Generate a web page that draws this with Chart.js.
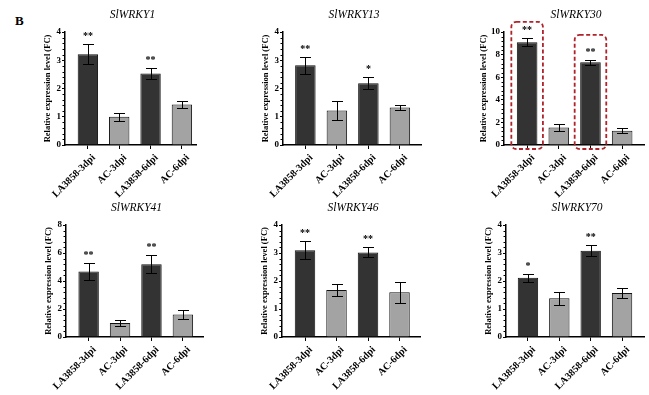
<!DOCTYPE html>
<html>
<head>
<meta charset="utf-8">
<script src="https://cdn.jsdelivr.net/npm/chart.js@4.4.0/dist/chart.umd.min.js"></script>
<style>
  html, body { margin: 0; padding: 0; background: #fff; }
  body { width: 649px; height: 395px; position: relative; overflow: hidden; }
  canvas.panel { position: absolute; }
  #panelLabel { position: absolute; left: 15px; top: 13px; font: bold 13px "Liberation Serif", serif; color: #000; }
</style>
</head>
<body>
<div id="panelLabel">B</div>
<script>
// Categories shared by every panel
const categories = ['LA3858-3dpi', 'AC-3dpi', 'LA3858-6dpi', 'AC-6dpi'];
const genes = ['SlWRKY1', 'SlWRKY13', 'SlWRKY30', 'SlWRKY41', 'SlWRKY46', 'SlWRKY70'];

// Mean relative expression (FC)
const wrky1Values  = [3.21, 1.00, 2.53, 1.43];
const wrky13Values = [2.82, 1.22, 2.19, 1.33];
const wrky30Values = [9.10, 1.54, 7.32, 1.26];
const wrky41Values = [4.68, 1.00, 5.20, 1.60];
const wrky46Values = [3.10, 1.68, 3.02, 1.60];
const wrky70Values = [2.12, 1.38, 3.08, 1.57];

// Error bar half-lengths
const wrky1Errors  = [0.35, 0.14, 0.20, 0.11];
const wrky13Errors = [0.29, 0.34, 0.20, 0.10];
const wrky30Errors = [0.35, 0.32, 0.20, 0.22];
const wrky41Errors = [0.58, 0.20, 0.65, 0.33];
const wrky46Errors = [0.32, 0.22, 0.18, 0.38];
const wrky70Errors = [0.14, 0.24, 0.20, 0.18];

// Significance marks
const wrky1Sig  = ['**', '', '**', ''];
const wrky13Sig = ['**', '', '*', ''];
const wrky30Sig = ['**', '', '**', ''];
const wrky41Sig = ['**', '', '**', ''];
const wrky46Sig = ['**', '', '**', ''];
const wrky70Sig = ['*', '', '**', ''];

// Highlighted bars in SlWRKY30 (top of the dashed box, FC units)
const wrky30Highlight = [10.9, null, 9.75, null];

// Y axis ranges and major tick steps
const yMaxValues = [4, 4, 10, 8, 4, 4];
const yStepValues = [1, 1, 2, 2, 1, 1];

const allValues = [wrky1Values, wrky13Values, wrky30Values, wrky41Values, wrky46Values, wrky70Values];
const allErrors = [wrky1Errors, wrky13Errors, wrky30Errors, wrky41Errors, wrky46Errors, wrky70Errors];
const allSig = [wrky1Sig, wrky13Sig, wrky30Sig, wrky41Sig, wrky46Sig, wrky70Sig];
const allHighlight = [null, null, wrky30Highlight, null, null, null];

// Page layout of each plot area (pixels on the page)
const layout = [
  { left: 65,  right: 196, top: 32,  bottom: 145, xMin: -0.73, xMax: 3.45, yw: 22 },
  { left: 283, right: 421, top: 32,  bottom: 145, xMin: -0.71, xMax: 3.67, yw: 22 },
  { left: 504, right: 644, top: 32,  bottom: 145, xMin: -0.73, xMax: 3.69, yw: 25 },
  { left: 66,  right: 203, top: 225, bottom: 337, xMin: -0.72, xMax: 3.64, yw: 22 },
  { left: 282, right: 420, top: 225, bottom: 337, xMin: -0.73, xMax: 3.65, yw: 22 },
  { left: 506, right: 644, top: 225, bottom: 337, xMin: -0.70, xMax: 3.70, yw: 22 }
];

const PAD_L = 4, PAD_T = 30, PAD_R = 6, PAD_B = 2, X_H = 58;
const serif = '"Liberation Serif", "Times New Roman", serif';

// Draws error bars, asterisks, minor ticks, highlight boxes and the italic gene title
function makeDeco(k) {
  return {
    id: 'deco' + k,
    afterDatasetsDraw(chart) {
      const { ctx, chartArea } = chart;
      const ys = chart.scales.y;
      const meta = chart.getDatasetMeta(0);
      ctx.save();
      ctx.strokeStyle = '#000';
      ctx.lineWidth = 1;

      // minor ticks on the y axis
      const minor = yStepValues[k] / 5;
      for (let i = 1; i * minor < yMaxValues[k]; i++) {
        if (i % 5 === 0) continue;
        const py = Math.round(ys.getPixelForValue(i * minor)) + 0.5;
        ctx.beginPath();
        ctx.moveTo(chartArea.left - 2.5, py);
        ctx.lineTo(chartArea.left, py);
        ctx.stroke();
      }

      meta.data.forEach((bar, j) => {
        const v = allValues[k][j], e = allErrors[k][j];
        const hi = Math.round(ys.getPixelForValue(v + e)) + 0.5;
        const lo = Math.round(ys.getPixelForValue(v - e)) + 0.5;
        const x = Math.round(bar.x) + 0.5;
        ctx.strokeStyle = '#000';
        ctx.lineWidth = 1;
        ctx.setLineDash([]);
        ctx.beginPath();
        ctx.moveTo(x, hi); ctx.lineTo(x, lo);
        ctx.moveTo(x - 5.5, hi); ctx.lineTo(x + 5.5, hi);
        ctx.moveTo(x - 5.5, lo); ctx.lineTo(x + 5.5, lo);
        ctx.stroke();

        if (allSig[k][j]) {
          ctx.fillStyle = '#000';
          ctx.font = 'bold 10px ' + serif;
          ctx.textAlign = 'center';
          ctx.textBaseline = 'middle';
          ctx.fillText(allSig[k][j], bar.x, hi - 8);
        }

        const hl = allHighlight[k];
        if (hl && hl[j] != null) {
          const x0 = bar.x - bar.width / 2 - 5.5;
          const x1 = bar.x + bar.width / 2 + 5.5;
          const y0 = ys.getPixelForValue(hl[j]);
          const y1 = chartArea.bottom + 4;
          ctx.strokeStyle = '#b1222b';
          ctx.lineWidth = 1.8;
          ctx.setLineDash([4, 2.5]);
          ctx.beginPath();
          ctx.roundRect(x0, y0, x1 - x0, y1 - y0, 5);
          ctx.stroke();
        }
      });
      ctx.restore();
    },
    afterDraw(chart) {
      const { ctx, chartArea } = chart;
      ctx.save();
      ctx.fillStyle = '#000';
      ctx.font = 'italic 11.5px ' + serif;
      ctx.textAlign = 'center';
      ctx.textBaseline = 'middle';
      ctx.fillText(genes[k], (chartArea.left + chartArea.right) / 2 + 2, chartArea.top - 17);
      ctx.restore();
    }
  };
}

function makePanel(k) {
  const p = layout[k];
  const cv = document.createElement('canvas');
  cv.className = 'panel';
  cv.width = PAD_L + p.yw + (p.right - p.left) + PAD_R;
  cv.height = PAD_T + (p.bottom - p.top) + X_H + PAD_B;
  cv.style.left = (p.left - p.yw - PAD_L) + 'px';
  cv.style.top = (p.top - PAD_T) + 'px';
  document.body.appendChild(cv);

  new Chart(cv, {
    type: 'bar',
    data: {
      datasets: [{
        data: allValues[k].map((v, j) => ({ x: j, y: v })),
        backgroundColor: allValues[k].map((v, j) => (j % 2 ? '#a3a3a3' : '#333333')),
        borderColor: '#111',
        borderWidth: 1,
        categoryPercentage: 1,
        barPercentage: 0.65
      }]
    },
    options: {
      responsive: false,
      animation: false,
      layout: { padding: { left: PAD_L, top: PAD_T, right: PAD_R, bottom: PAD_B } },
      plugins: { legend: { display: false }, tooltip: { enabled: false } },
      scales: {
        x: {
          type: 'linear',
          min: p.xMin,
          max: p.xMax,
          offset: false,
          afterBuildTicks: s => { s.ticks = categories.map((c, j) => ({ value: j })); },
          afterFit: s => { s.height = X_H; },
          grid: { offset: false, drawOnChartArea: false, color: '#000', tickLength: 4 },
          border: { color: '#000', width: 1.5 },
          ticks: {
            autoSkip: false,
            minRotation: 45,
            maxRotation: 45,
            padding: 3,
            labelOffset: 6,
            color: '#000',
            font: { family: serif, weight: 'bold', size: 10 },
            callback: v => categories[v]
          }
        },
        y: {
          min: 0,
          max: yMaxValues[k],
          afterFit: s => { s.width = p.yw; },
          grid: { drawOnChartArea: false, color: '#000', tickLength: 3 },
          border: { color: '#000', width: 1.5 },
          ticks: {
            stepSize: yStepValues[k],
            padding: 1,
            color: '#000',
            font: { family: serif, weight: 'bold', size: 9 }
          },
          title: {
            display: true,
            text: 'Relative expression level (FC)',
            color: '#000',
            padding: 0,
            font: { family: serif, weight: 'bold', size: 8.5 }
          }
        }
      }
    },
    plugins: [makeDeco(k)]
  });
}

for (let k = 0; k < genes.length; k++) makePanel(k);
</script>
</body>
</html>
